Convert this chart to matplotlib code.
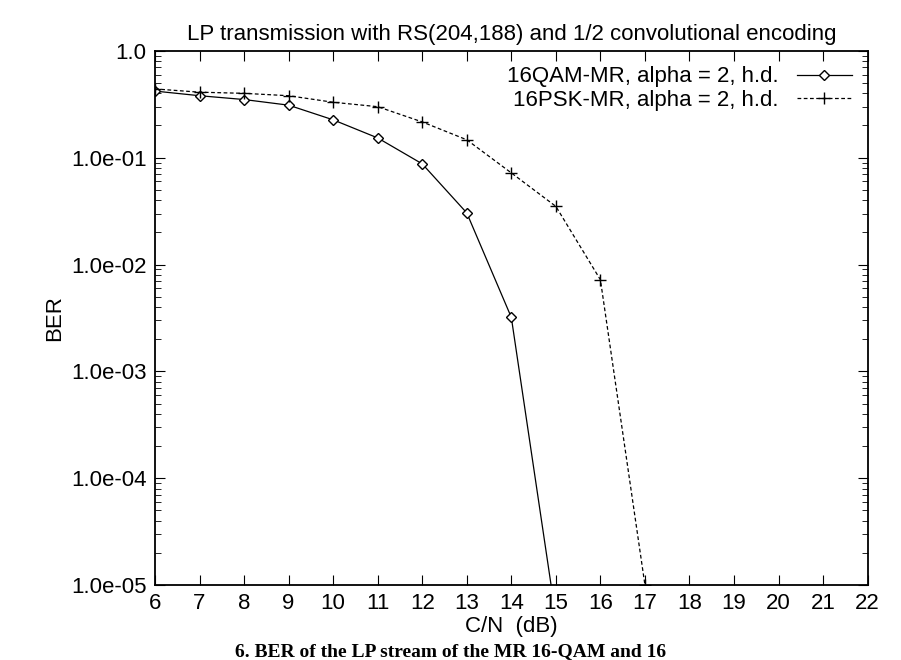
import matplotlib
matplotlib.use("Agg")
import matplotlib.pyplot as plt
from matplotlib.ticker import FixedLocator, LogLocator, NullFormatter

plt.rcParams["font.family"] = "Liberation Sans"

cn = [6, 7, 8, 9, 10, 11, 12, 13, 14, 15]
ber_qam = [0.42, 0.38, 0.35, 0.31, 0.226, 0.153, 0.0875, 0.0304, 3.2e-3, 5e-6]
cn_psk = [6, 7, 8, 9, 10, 11, 12, 13, 14, 15, 16, 17]
ber_psk = [0.44, 0.41, 0.40, 0.38, 0.33, 0.30, 0.216, 0.147, 0.072, 0.035, 7.2e-3, 1e-5]
xticks = list(range(6, 23))
yticks = [1e-5, 1e-4, 1e-3, 1e-2, 1e-1, 1.0]
ytick_labels = ["1.0e-05", "1.0e-04", "1.0e-03", "1.0e-02", "1.0e-01", "1.0"]

fig = plt.figure(figsize=(9.01, 6.6), dpi=100)
ax = fig.add_axes([0.172, 0.1136, 0.791, 0.8094])
ax.plot(cn, ber_qam, color="black", lw=0.9, marker="D", ms=5, mfc="white", mec="black",
        label="16QAM-MR, alpha = 2, h.d.")
ax.plot(cn_psk, ber_psk, color="black", lw=0.9, ls=(0, (3, 2)), marker="+", ms=8,
        label="16PSK-MR, alpha = 2, h.d.")
ax.set_yscale("log")
ax.set_xlim(6, 22)
ax.set_ylim(1e-5, 1.0)
ax.xaxis.set_major_locator(FixedLocator(xticks))
ax.set_yticks(yticks)
ax.set_yticklabels(ytick_labels)
ax.yaxis.set_minor_locator(LogLocator(base=10, subs=range(2, 10)))
ax.yaxis.set_minor_formatter(NullFormatter())
ax.tick_params(which="both", direction="in", top=True, right=True, labelsize=16)
ax.tick_params(which="major", length=7, pad=6)
ax.tick_params(which="minor", length=4)
for s in ax.spines.values():
    s.set_linewidth(1.3)
ax.set_xlabel("C/N  (dB)", fontsize=16, labelpad=1)
ax.set_ylabel("BER", fontsize=16, labelpad=4)
ax.set_title("LP transmission with RS(204,188) and 1/2 convolutional encoding", fontsize=16, pad=8)
leg = ax.legend(loc="upper right", frameon=False, fontsize=16, markerfirst=False,
                handlelength=2.5, borderaxespad=0.3, labelspacing=0.1)
for t in leg.get_texts():
    t.set_ha("right")
fig.text(0.5, 0.0, "6. BER of the LP stream of the MR 16-QAM and 16", ha="center",
         va="bottom", fontsize=14, family="Liberation Serif", weight="bold")
fig.savefig("out.png", dpi=100)
